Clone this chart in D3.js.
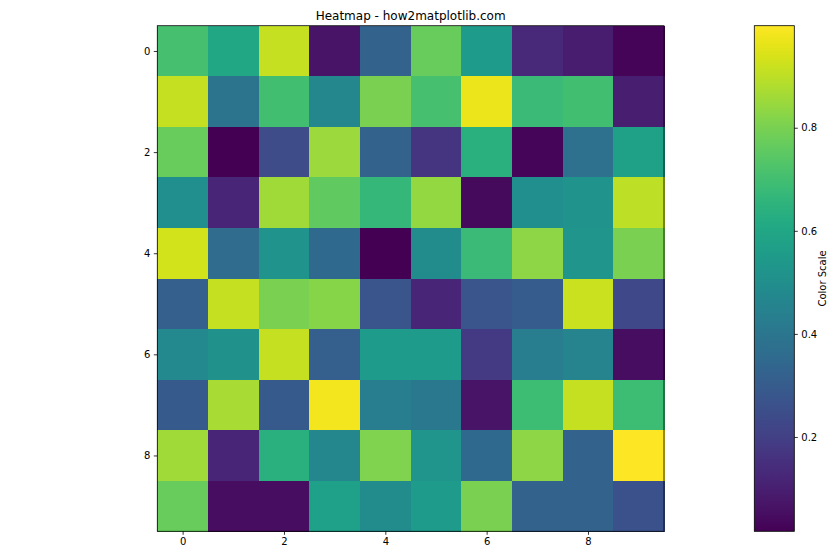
<!DOCTYPE html>
<html>
<head>
<meta charset="utf-8">
<script src="https://cdn.jsdelivr.net/npm/d3@7"></script>
<style>
  html, body { margin: 0; padding: 0; background: #fff; }
  svg { display: block; font-family: "DejaVu Sans", sans-serif; }
</style>
</head>
<body>
<svg id="chart" width="840" height="560"></svg>
<script>
const titleText = "Heatmap - how2matplotlib.com";
const colorbarLabel = "Color Scale";
const rows = [0,1,2,3,4,5,6,7,8,9];
const cols = [0,1,2,3,4,5,6,7,8,9];
const xTicks = [0,2,4,6,8];
const yTicks = [0,2,4,6,8];
const cbTicks = [0.2,0.4,0.6,0.8];

const row0 = [0.71,0.60,0.91,0.07,0.32,0.77,0.55,0.13,0.09,0.025];
const row1 = [0.91,0.39,0.70,0.47,0.80,0.71,0.97,0.68,0.70,0.10];
const row2 = [0.77,0.017,0.24,0.85,0.32,0.17,0.64,0.03,0.38,0.58];
const row3 = [0.50,0.12,0.86,0.76,0.67,0.84,0.04,0.50,0.52,0.90];
const row4 = [0.93,0.36,0.52,0.35,0.02,0.49,0.68,0.83,0.53,0.80];
const row5 = [0.31,0.91,0.80,0.82,0.27,0.12,0.27,0.30,0.92,0.23];
const row6 = [0.48,0.51,0.91,0.31,0.55,0.55,0.18,0.43,0.46,0.05];
const row7 = [0.29,0.87,0.29,0.98,0.43,0.41,0.07,0.69,0.91,0.69];
const row8 = [0.86,0.12,0.64,0.47,0.81,0.53,0.35,0.83,0.32,0.998];
const row9 = [0.77,0.05,0.05,0.57,0.49,0.55,0.80,0.32,0.32,0.26];
const values = [row0,row1,row2,row3,row4,row5,row6,row7,row8,row9];

const svg = d3.select("#chart");
const plot = {left: 157.3, top: 25.7, right: 664, bottom: 531.3};
const cb = {left: 754.3, right: 794.3, top: 25.7, bottom: 531.3};

const x = d3.scaleLinear().domain([-0.5, 9.5]).range([plot.left, plot.right]);
const y = d3.scaleLinear().domain([-0.5, 9.5]).range([plot.top, plot.bottom]);

const flat = values.flat();
const extent = d3.extent(flat);
const color = d3.scaleSequential(d3.interpolateViridis).domain(extent);

const cells = [];
rows.forEach((r, i) => cols.forEach((c, j) => cells.push({r, c, v: values[i][j]})));

svg.append("g").selectAll("rect").data(cells).join("rect")
  .attr("x", d => x(d.c - 0.5))
  .attr("y", d => y(d.r - 0.5))
  .attr("width", d => x(d.c + 0.5) - x(d.c - 0.5) + 0.5)
  .attr("height", d => y(d.r + 0.5) - y(d.r - 0.5) + 0.5)
  .attr("fill", d => color(d.v))
  .attr("shape-rendering", "crispEdges");

// frame
svg.append("rect")
  .attr("x", plot.left).attr("y", plot.top)
  .attr("width", plot.right - plot.left).attr("height", plot.bottom - plot.top)
  .attr("fill", "none").attr("stroke", "#000").attr("stroke-width", 0.8);

const xAxis = svg.append("g")
  .attr("transform", `translate(0,${plot.bottom})`)
  .call(d3.axisBottom(x).tickValues(xTicks).tickFormat(d3.format("d")).tickSize(3.5).tickPadding(3.5));
const yAxis = svg.append("g")
  .attr("transform", `translate(${plot.left},0)`)
  .call(d3.axisLeft(y).tickValues(yTicks).tickFormat(d3.format("d")).tickSize(3.5).tickPadding(3.5));
[xAxis, yAxis].forEach(a => {
  a.select(".domain").remove();
  a.selectAll("line").attr("stroke", "#000").attr("stroke-width", 0.8);
  a.selectAll("text").attr("fill", "#000").style("font-size", "10px").style("font-family", "DejaVu Sans, sans-serif");
});

// title
svg.append("text")
  .attr("x", (plot.left + plot.right) / 2).attr("y", 20)
  .attr("text-anchor", "middle")
  .style("font-size", "12px").attr("fill", "#000")
  .text(titleText);

// colorbar
const defs = svg.append("defs");
const grad = defs.append("linearGradient").attr("id", "cbgrad")
  .attr("x1", "0").attr("y1", "1").attr("x2", "0").attr("y2", "0");
d3.range(0, 1.0001, 0.02).forEach(t => {
  grad.append("stop").attr("offset", t).attr("stop-color", d3.interpolateViridis(t));
});
svg.append("rect")
  .attr("x", cb.left).attr("y", cb.top)
  .attr("width", cb.right - cb.left).attr("height", cb.bottom - cb.top)
  .attr("fill", "url(#cbgrad)")
  .attr("stroke", "#000").attr("stroke-width", 0.8);

const cy = d3.scaleLinear().domain(extent).range([cb.bottom, cb.top]);
const cbAxis = svg.append("g")
  .attr("transform", `translate(${cb.right},0)`)
  .call(d3.axisRight(cy).tickValues(cbTicks).tickFormat(d3.format(".1f")).tickSize(3.5).tickPadding(3.5));
cbAxis.select(".domain").remove();
cbAxis.selectAll("line").attr("stroke", "#000").attr("stroke-width", 0.8);
cbAxis.selectAll("text").attr("fill", "#000").style("font-size", "10px").style("font-family", "DejaVu Sans, sans-serif");

svg.append("text")
  .attr("transform", `translate(826,${(cb.top + cb.bottom) / 2}) rotate(-90)`)
  .attr("text-anchor", "middle")
  .style("font-size", "10px").attr("fill", "#000")
  .text(colorbarLabel);
</script>
</body>
</html>
